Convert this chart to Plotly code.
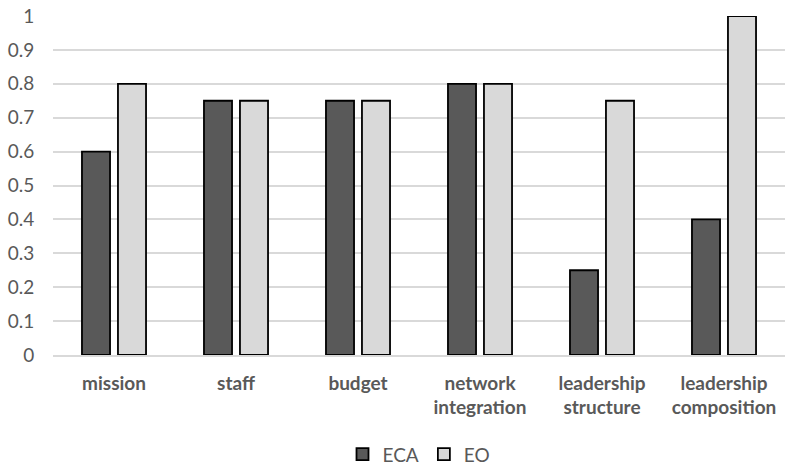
import plotly.graph_objects as go

categories = ["mission", "staff", "budget", "network<br>integration",
              "leadership<br>structure", "leadership<br>composition"]
eca_values = [0.6, 0.75, 0.75, 0.8, 0.25, 0.4]
eo_values = [0.8, 0.75, 0.75, 0.8, 0.75, 1.0]
y_ticks = [0, 0.1, 0.2, 0.3, 0.4, 0.5, 0.6, 0.7, 0.8, 0.9, 1]
y_tick_text = ["0", "0.1", "0.2", "0.3", "0.4", "0.5", "0.6", "0.7", "0.8", "0.9", "1"]

font_family = "Lato, 'Open Sans', sans-serif"
text_color = "#595959"

fig = go.Figure()
fig.add_trace(go.Bar(
    name="ECA", x=categories, y=eca_values,
    marker=dict(color="#595959", line=dict(color="#000000", width=1.8)),
))
fig.add_trace(go.Bar(
    name="EO", x=categories, y=eo_values,
    marker=dict(color="#d9d9d9", line=dict(color="#000000", width=1.8)),
))

fig.update_layout(
    width=790, height=466,
    margin=dict(l=53, r=5, t=16, b=111),
    paper_bgcolor="white", plot_bgcolor="white",
    barmode="group", bargap=0.41, bargroupgap=0.22,
    font=dict(family=font_family, color=text_color, size=19),
    showlegend=True,
    legend=dict(
        orientation="h", x=0.5, xanchor="center",
        yref="container", y=0.025, yanchor="middle",
        font=dict(size=19, color=text_color),
        itemwidth=30, traceorder="normal",
    ),
)
fig.update_xaxes(
    showgrid=False, showline=True, linecolor="#d9d9d9", linewidth=1.5,
    ticks="outside", ticklen=10, tickcolor="rgba(0,0,0,0)",
    tickfont=dict(family=font_family, size=19, color=text_color, weight="bold"),
)
fig.update_yaxes(
    range=[0, 1], tickvals=y_ticks, ticktext=y_tick_text,
    showgrid=True, gridcolor="#d9d9d9", gridwidth=1.5,
    zeroline=False, showline=False,
    ticks="outside", ticklen=14, tickcolor="rgba(0,0,0,0)",
    tickfont=dict(family=font_family, size=19, color=text_color),
)

fig.write_html("out.html")
